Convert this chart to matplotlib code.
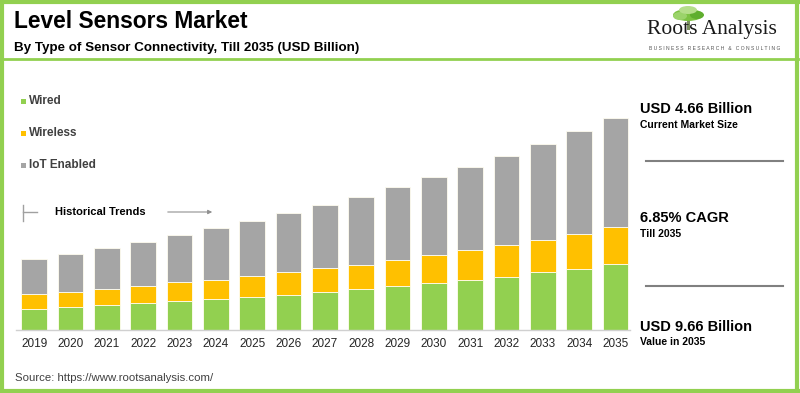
import matplotlib.pyplot as plt
from matplotlib.lines import Line2D
from matplotlib.patches import Ellipse, Rectangle

years = [str(y) for y in range(2019, 2036)]
wired = [0.96, 1.05, 1.14, 1.23, 1.32, 1.41, 1.50, 1.59, 1.73, 1.87,
         2.00, 2.14, 2.28, 2.41, 2.64, 2.78, 3.01]
wireless = [0.68, 0.68, 0.73, 0.77, 0.87, 0.87, 0.96, 1.05, 1.09, 1.09,
            1.18, 1.28, 1.37, 1.46, 1.46, 1.59, 1.69]
iot = [1.59, 1.73, 1.87, 2.00, 2.14, 2.38, 2.51, 2.69, 2.87, 3.10,
       3.33, 3.55, 3.78, 4.05, 4.37, 4.69, 4.96]
series = ['Wired', 'Wireless', 'IoT Enabled']
colors = ['#92D050', '#FFC000', '#A5A5A5']

W, H = 800, 393
plt.rcParams['font.family'] = ['Liberation Sans', 'DejaVu Sans']

fig = plt.figure(figsize=(W / 100, H / 100), dpi=100)
fig.patch.set_facecolor('white')


def px(x, y):
    # pixel position (from top-left) -> figure fraction
    return x / W, 1 - y / H


def hline(x0, x1, y, color, lw):
    fig.add_artist(Line2D([x0 / W, x1 / W], [1 - y / H, 1 - y / H],
                          transform=fig.transFigure, color=color, lw=lw))


def vline(x, y0, y1, color, lw):
    fig.add_artist(Line2D([x / W, x / W], [1 - y0 / H, 1 - y1 / H],
                          transform=fig.transFigure, color=color, lw=lw))


# plot area: baseline at y=330, top at y=100
ax = fig.add_axes([16 / W, 1 - 330 / H, 614 / W, 230 / H])
pos = list(range(len(years)))
bottom = [0] * len(years)
for name, vals, c in zip(series, [wired, wireless, iot], colors):
    ax.bar(pos, vals, bottom=bottom, width=0.71, color=c,
           edgecolor='#FFFDF0', linewidth=0.6)
    bottom = [b + v for b, v in zip(bottom, vals)]

ax.set_xlim(-0.5, 16.4)
ax.set_ylim(0, 10.48)
ax.set_xticks(pos)
ax.set_xticklabels(years, fontsize=8.5, color='#262626')
ax.tick_params(axis='x', length=0, pad=6)
ax.set_yticks([])
for s in ['top', 'right', 'left']:
    ax.spines[s].set_visible(False)
ax.spines['bottom'].set_color('#D0D0D0')
ax.spines['bottom'].set_linewidth(1)

# title
fig.text(*px(14, 22), 'Level Sensors Market', fontsize=16.4, fontweight='bold',
         color='black', va='center')
fig.text(*px(14, 48), 'By Type of Sensor Connectivity, Till 2035 (USD Billion)',
         fontsize=9.6, fontweight='bold', color='black', va='center')

# frame lines
hline(0, 798, 59, '#92D050', 2)
hline(0, 798, 2, '#92D050', 3)
hline(0, 798, 391, '#92D050', 3)
vline(2, 0, 393, '#92D050', 3)
vline(797, 0, 393, '#92D050', 3)

# logo
fig.add_artist(Rectangle(px(687, 30), 2.5 / W, 12 / H, transform=fig.transFigure,
                         color='#7A8F5E', lw=0))
for cx, cy, w, h, c in [(688, 15, 30, 12, '#7CC242'), (680, 16, 14, 8, '#9BD36A'),
                        (697, 15, 14, 8, '#5FAE2E'), (688, 10, 18, 8, '#B5DE8A')]:
    fig.add_artist(Ellipse(px(cx, cy), w / W, h / H, transform=fig.transFigure,
                           color=c, lw=0))
fig.text(*px(647, 34), 'Roots Analysis', fontsize=15.5, family='Liberation Serif',
         color='#1a1a1a', va='baseline')
fig.text(*px(649, 49), 'B U S I N E S S   R E S E A R C H   &   C O N S U L T I N G',
         fontsize=3.6, color='#555555', va='center')

# legend
for i, (name, c) in enumerate(zip(series, colors)):
    y = 101 + 32 * i
    fig.add_artist(Rectangle(px(21, y + 3), 5 / W, 5 / H, transform=fig.transFigure,
                             color=c, lw=0))
    fig.text(*px(29, y), name, fontsize=8.5, fontweight='bold', color='#404040',
             va='center')

# historical trends
vline(23, 205, 221, '#A0A0A0', 1)
hline(23, 37, 212, '#A0A0A0', 1)
fig.text(*px(55, 212), 'Historical Trends', fontsize=8, fontweight='bold',
         color='black', va='center')
fig.add_artist(plt.Annotation('', xy=px(215, 212), xytext=px(165, 212),
                              xycoords='figure fraction', textcoords='figure fraction',
                              arrowprops=dict(arrowstyle='-|>', color='#909090',
                                              lw=0.8, mutation_scale=6)))

# right panel
fig.text(*px(640, 109), 'USD 4.66 Billion', fontsize=10.5, fontweight='bold',
         color='black', va='center')
fig.text(*px(640, 125), 'Current Market Size', fontsize=7.5, fontweight='bold',
         color='black', va='center')
hline(646, 783, 160.5, '#808080', 1.5)
fig.text(*px(640, 218), '6.85% CAGR', fontsize=10.5, fontweight='bold',
         color='black', va='center')
fig.text(*px(640, 234), 'Till 2035', fontsize=7.5, fontweight='bold',
         color='black', va='center')
hline(646, 783, 286, '#808080', 1.5)
fig.text(*px(640, 327), 'USD 9.66 Billion', fontsize=10.5, fontweight='bold',
         color='black', va='center')
fig.text(*px(640, 342), 'Value in 2035', fontsize=7.5, fontweight='bold',
         color='black', va='center')

# source
fig.text(*px(15, 378), 'Source: https://www.rootsanalysis.com/', fontsize=8.2,
         color='#404040', va='center')

fig.savefig('out.png', dpi=100)
